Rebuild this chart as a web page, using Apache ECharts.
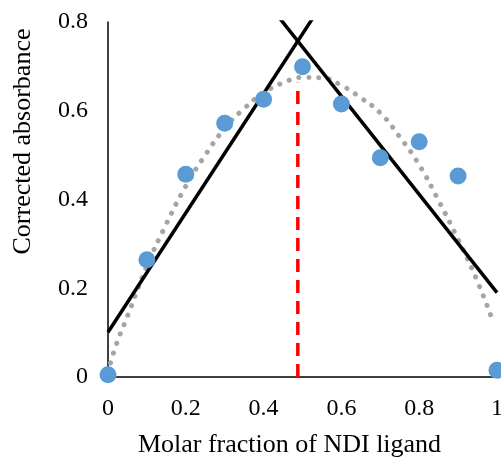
<!DOCTYPE html>
<html>
<head>
<meta charset="utf-8">
<script src="https://cdn.jsdelivr.net/npm/echarts@6/dist/echarts.min.js"></script>
<style>html,body{margin:0;padding:0;background:#fff}#c{width:501px;height:457px}</style>
</head>
<body>
<div id="c"></div>
<script>
// Measured data points (molar fraction, corrected absorbance)
const molarFraction = [0, 0.1, 0.2, 0.3, 0.4, 0.5, 0.6, 0.7, 0.8, 0.9, 1.0];
const absorbance = [0.005, 0.264, 0.457, 0.572, 0.626, 0.699, 0.615, 0.494, 0.530, 0.453, 0.015];

// Dotted polynomial trend curve
const trendX = [0, 0.02, 0.05, 0.10, 0.15, 0.20, 0.25, 0.30, 0.35, 0.40, 0.45, 0.50, 0.55, 0.60, 0.65, 0.70, 0.75, 0.80, 0.85, 0.90, 0.95, 0.99];
const trendY = [0.01, 0.07, 0.137, 0.25, 0.345, 0.43, 0.50, 0.56, 0.605, 0.64, 0.663, 0.675, 0.674, 0.657, 0.629, 0.595, 0.541, 0.478, 0.397, 0.31, 0.215, 0.124];

// Two linear fits (endpoints)
const leftFitX = [0, 0.54];
const leftFitY = [0.101, 0.827];
const rightFitX = [0.43, 1.0];
const rightFitY = [0.821, 0.19];

// Vertical intersection marker
const intersectX = 0.488;
const intersectTopY = 0.663;

const xTicks = {min: 0, max: 1, interval: 0.2};
const yTicks = {min: 0, max: 0.8, interval: 0.2};

const xTitle = 'Molar fraction of NDI ligand';
const yTitle = 'Corrected absorbance';

const font = 'Liberation Serif';
const chart = echarts.init(document.getElementById('c'), null, {renderer: 'canvas'});
const zip = (a, b) => a.map((v, i) => [v, b[i]]);

chart.setOption({
  animation: false,
  backgroundColor: '#ffffff',
  grid: {left: 108, right: 4, top: 22, bottom: 80, containLabel: false, outerBoundsMode: 'none'},
  xAxis: {
    type: 'value', min: xTicks.min, max: xTicks.max, interval: xTicks.interval,
    name: xTitle, nameLocation: 'middle', nameGap: 55,
    nameTextStyle: {fontFamily: font, fontSize: 26, color: '#000', padding: [0, 26, 0, 0]},
    axisLine: {show: true, onZero: false, lineStyle: {color: '#000', width: 1.5}},
    axisTick: {show: false},
    splitLine: {show: false},
    axisLabel: {fontFamily: font, fontSize: 24, color: '#000', margin: 20}
  },
  yAxis: {
    type: 'value', min: yTicks.min, max: yTicks.max, interval: yTicks.interval,
    name: yTitle, nameLocation: 'middle', nameGap: 72, nameRotate: 90,
    nameTextStyle: {fontFamily: font, fontSize: 26, color: '#000', padding: [0, 0, 0, 116]},
    axisLine: {show: true, onZero: false, lineStyle: {color: '#000', width: 1.5}},
    axisTick: {show: false},
    splitLine: {show: false},
    axisLabel: {fontFamily: font, fontSize: 24, color: '#000', margin: 20}
  },
  series: [
    {
      type: 'line', data: zip(trendX, trendY), smooth: true, showSymbol: false, z: 1,
      lineStyle: {color: '#A5A5A5', width: 5, type: [0.1, 10], cap: 'round'}
    },
    {
      type: 'line', data: zip(leftFitX, leftFitY), showSymbol: false, z: 2,
      lineStyle: {color: '#000', width: 3.5}
    },
    {
      type: 'line', data: zip(rightFitX, rightFitY), showSymbol: false, z: 2,
      lineStyle: {color: '#000', width: 3.5}
    },
    {
      type: 'line', data: [[intersectX, 0], [intersectX, intersectTopY]], showSymbol: false, z: 3,
      lineStyle: {color: '#FF0000', width: 3.5, type: [13, 8]}
    },
    {
      type: 'scatter', data: zip(molarFraction, absorbance), symbolSize: 17, clip: false, z: 4,
      itemStyle: {color: '#5B9BD5', opacity: 1}
    }
  ]
});
</script>
</body>
</html>
